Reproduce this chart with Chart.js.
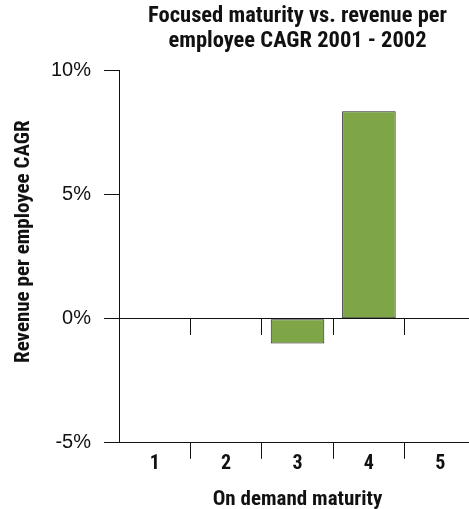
<!DOCTYPE html>
<html>
<head>
<meta charset="utf-8">
<script src="https://cdn.jsdelivr.net/npm/chart.js@4/dist/chart.umd.min.js"></script>
<style>
  html, body { margin: 0; padding: 0; background: #fff; }
  #wrap { width: 469px; height: 509px; overflow: hidden; }
</style>
</head>
<body>
<div id="wrap"><canvas id="chart" width="478" height="509"></canvas></div>
<script>
const categories = ['1', '2', '3', '4', '5'];
const cagrValues = [0, 0, -1.0, 8.35, 0];
const yTicks = [-5, 0, 5, 10];

const narrow = '"Roboto Condensed", "Liberation Sans Narrow", Roboto, sans-serif';
const plain = '"Liberation Sans", Arial, sans-serif';
const yTitle = 'Revenue per employee CAGR';

// rotated y title, drawn by hand so it can sit a bit above the plot centre
const yTitlePlugin = {
  id: 'yTitle',
  afterDraw(chart) {
    const { ctx, chartArea } = chart;
    ctx.save();
    ctx.translate(24, (chartArea.top + chartArea.bottom) / 2 - 15);
    ctx.rotate(-Math.PI / 2);
    ctx.font = 'bold 21px ' + narrow;
    ctx.fillStyle = '#111';
    ctx.textAlign = 'center';
    ctx.textBaseline = 'middle';
    ctx.fillText(yTitle, 0, 0);
    ctx.restore();
  }
};

const ctx = document.getElementById('chart').getContext('2d');
new Chart(ctx, {
  type: 'bar',
  data: {
    labels: categories,
    datasets: [{
      data: cagrValues,
      backgroundColor: '#7ea647',
      borderColor: '#222',
      borderWidth: 1,
      borderSkipped: false,
      barPercentage: 0.75,
      categoryPercentage: 1,
      xAxisID: 'x'
    }]
  },
  options: {
    responsive: false,
    animation: false,
    layout: { padding: { left: 38, right: 2, top: 0, bottom: 0 } },
    plugins: {
      legend: { display: false },
      tooltip: { enabled: false },
      title: {
        display: true,
        fullSize: false,
        text: ['Focused maturity vs. revenue per', 'employee CAGR 2001 - 2002'],
        color: '#111',
        font: { family: narrow, size: 22.5, weight: 'bold', lineHeight: 1.12 },
        padding: { top: 4, bottom: 16 }
      }
    },
    scales: {
      x: {
        type: 'category',
        position: 'bottom',
        offset: true,
        grid: {
          offset: true,
          drawOnChartArea: false,
          tickLength: 16,
          color: c => c.index === 0 ? 'rgba(0,0,0,0)' : '#111'
        },
        border: { display: false },
        ticks: {
          padding: -7,
          color: '#111',
          font: { family: narrow, size: 20, weight: 'bold' }
        },
        title: {
          display: true,
          text: 'On demand maturity',
          color: '#111',
          font: { family: narrow, size: 21, weight: 'bold' },
          padding: { top: 18, bottom: -3 }
        }
      },
      // second copy of the category axis, pinned to the zero line for its tick marks
      x0: {
        type: 'category',
        position: { y: 0 },
        offset: true,
        grid: {
          offset: true,
          drawOnChartArea: false,
          tickLength: 16,
          color: c => c.index === 0 ? 'rgba(0,0,0,0)' : '#111'
        },
        border: { display: false },
        ticks: { display: false }
      },
      y: {
        min: -5,
        max: 10,
        afterBuildTicks: axis => { axis.ticks = yTicks.map(v => ({ value: v })); },
        grid: {
          tickLength: 15,
          tickColor: '#111',
          color: c => (c.tick.value === 0 || c.tick.value === -5) ? '#111' : 'rgba(0,0,0,0)'
        },
        border: { display: true, color: '#111' },
        ticks: {
          padding: 13,
          color: '#111',
          font: { family: plain, size: 20 },
          callback: v => v + '%'
        }
      }
    }
  },
  plugins: [yTitlePlugin]
});
</script>
</body>
</html>
